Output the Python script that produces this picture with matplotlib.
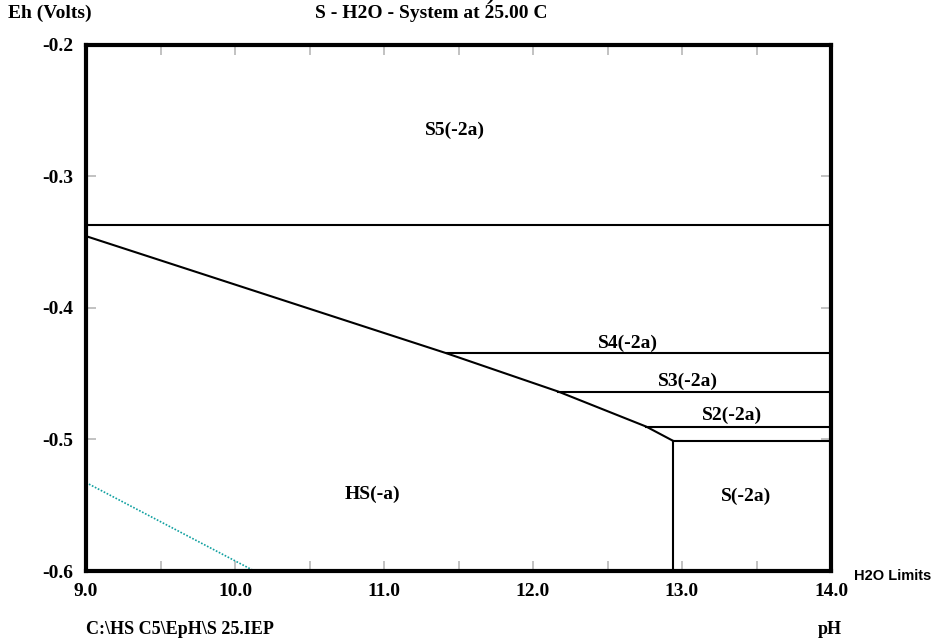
import numpy as np
import matplotlib.pyplot as plt
from matplotlib.ticker import FixedLocator, FuncFormatter

plt.rcParams['font.family'] = ['Liberation Serif', 'DejaVu Serif']
plt.rcParams['font.weight'] = 'bold'

# stability field boundaries (pH, Eh)
S5_LINE_EH = -0.337
HS_UPPER_PH = [9.0, 11.42, 12.17, 12.76, 12.94]
HS_UPPER_EH = [-0.3456, -0.4346, -0.4637, -0.4903, -0.5011]
S4_EH = -0.4346
S3_EH = -0.4637
S2_EH = -0.4903
S_TOP_EH = -0.5011
S_VERT_PH = 12.94
H2O_PH = [9.0, 10.13]
H2O_EH = [-0.5328, -0.6]

FIELD_NAMES = ['S5(-2a)', 'S4(-2a)', 'S3(-2a)', 'S2(-2a)', 'HS(-a)', 'S(-2a)']
FIELD_PH = [11.475, 12.64, 13.04, 13.335, 10.92, 13.43]
FIELD_EH = [-0.265, -0.4268, -0.4557, -0.482, -0.542, -0.5435]

fig = plt.figure(figsize=(9.32, 6.4), dpi=100)
ax = fig.add_axes([86/932, 1 - 571/640, 745/932, 526.5/640])
ax.set_xlim(9.0, 14.0)
ax.set_ylim(-0.6, -0.2)

lw = 1.5
ax.plot([9.0, 14.0], [S5_LINE_EH, S5_LINE_EH], color='black', lw=lw)
ax.plot(HS_UPPER_PH, HS_UPPER_EH, color='black', lw=lw)
ax.plot([HS_UPPER_PH[1], 14.0], [S4_EH, S4_EH], color='black', lw=lw)
ax.plot([HS_UPPER_PH[2], 14.0], [S3_EH, S3_EH], color='black', lw=lw)
ax.plot([HS_UPPER_PH[3], 14.0], [S2_EH, S2_EH], color='black', lw=lw)
ax.plot([S_VERT_PH, 14.0], [S_TOP_EH, S_TOP_EH], color='black', lw=lw)
ax.plot([S_VERT_PH, S_VERT_PH], [S_TOP_EH, -0.6], color='black', lw=lw)
ax.plot(H2O_PH, H2O_EH, color='#10a0a0', lw=1.2, ls=(0, (1, 1)))

for name, x, y in zip(FIELD_NAMES, FIELD_PH, FIELD_EH):
    ax.text(x, y, name, ha='center', va='center', fontsize=14, fontweight='bold')

for s in ax.spines.values():
    s.set_linewidth(3)

ax.xaxis.set_major_locator(FixedLocator(np.arange(9.0, 14.01, 0.5)))
ax.xaxis.set_major_formatter(FuncFormatter(lambda v, p: f'{v:.1f}' if abs(v - round(v)) < 1e-6 else ''))
ax.yaxis.set_major_locator(FixedLocator([-0.6, -0.5, -0.4, -0.3, -0.2]))
ax.yaxis.set_major_formatter(FuncFormatter(lambda v, p: f'{v:.1f}'))
ax.tick_params(axis='both', direction='in', length=7, width=1.2, color='#b8b8b8',
               labelsize=14, top=True, right=True)
ax.tick_params(axis='x', pad=9)
ax.tick_params(axis='y', pad=9)
for lab in ax.get_xticklabels() + ax.get_yticklabels():
    lab.set_fontweight('bold')

fig.text(50/932, 1 - 13/640, 'Eh (Volts)', ha='center', va='center', fontsize=14, fontweight='bold')
fig.text(431/932, 1 - 13/640, 'S - H2O - System at 25.00 C', ha='center', va='center',
         fontsize=14, fontweight='bold')
fig.text(492/932, 1 + 5/640, ')', ha='center', va='center', fontsize=16, style='italic')
fig.text(86/932, 1 - 630/640, 'C:\\HS C5\\EpH\\S 25.IEP', ha='left', va='center',
         fontsize=13, fontweight='bold')
fig.text(830/932, 1 - 630/640, 'pH', ha='center', va='center', fontsize=13, fontweight='bold')
fig.text(931/932, 1 - 576/640, 'H2O Limits', ha='right', va='center', fontsize=10.5,
         fontweight='bold', family=['Liberation Sans', 'DejaVu Sans'])

fig.savefig('out.png', dpi=100)
